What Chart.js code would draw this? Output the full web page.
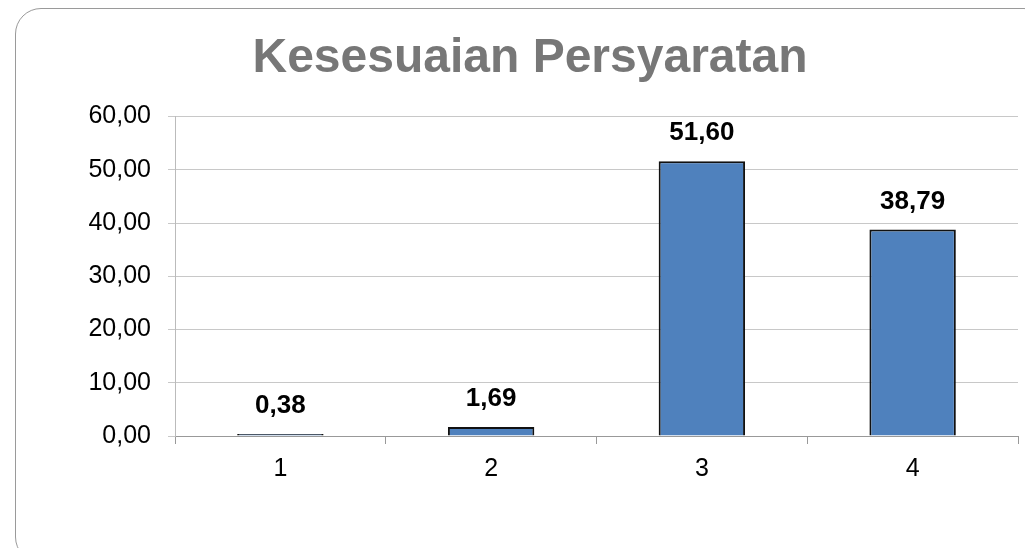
<!DOCTYPE html>
<html>
<head>
<meta charset="utf-8">
<script src="https://cdn.jsdelivr.net/npm/chart.js@4"></script>
<style>
    html, body { margin: 0; padding: 0; background: #fff; overflow: hidden; }
    #box {
        position: absolute; left: 15px; top: 8px;
        width: 1035px; height: 555px; box-sizing: border-box;
        border: 1px solid #9a9a9a; border-radius: 26px;
    }
    #kesesuaianChart { display: block; }
</style>
</head>
<body>
<div id="box"><canvas id="kesesuaianChart" width="1033" height="553"></canvas></div>
<script>
const chartTitle = 'Kesesuaian Persyaratan';
const categories = ['1', '2', '3', '4'];
const percentValues = [0.38, 1.69, 51.60, 38.79];
const yTicks = [0, 10, 20, 30, 40, 50, 60];

const fmt = v => v.toFixed(2).replace('.', ',');
const fontFamily = '"Liberation Sans", Arial, sans-serif';

// labels drawn above each bar, like the Excel data labels
const barLabels = {
    id: 'barLabels',
    afterDatasetsDraw(chart) {
        const ctx = chart.ctx;
        const meta = chart.getDatasetMeta(0);
        ctx.save();
        ctx.font = 'bold 26px ' + fontFamily;
        ctx.fillStyle = '#000';
        ctx.textAlign = 'center';
        ctx.textBaseline = 'middle';
        meta.data.forEach((bar, i) => {
            ctx.fillText(fmt(percentValues[i]), bar.x, bar.y - 28);
        });
        ctx.restore();
    }
};

const ctx = document.getElementById('kesesuaianChart').getContext('2d');
new Chart(ctx, {
    type: 'bar',
    data: {
        labels: categories,
        datasets: [{
            data: percentValues,
            backgroundColor: '#4F81BD',
            borderColor: '#111',
            borderWidth: 2,
            barPercentage: 0.41,
            categoryPercentage: 1
        }]
    },
    options: {
        responsive: false,
        animation: false,
        layout: {
            padding: { left: 26, right: 31, top: 0, bottom: 68 }
        },
        scales: {
            x: {
                grid: {
                    offset: true,
                    drawOnChartArea: false,
                    tickLength: 8,
                    color: '#999'
                },
                border: { color: '#999' },
                ticks: {
                    color: '#000',
                    padding: 10,
                    font: { family: fontFamily, size: 25 }
                }
            },
            y: {
                min: 0,
                max: 60,
                afterFit(scale) { scale.width = 133; },
                afterBuildTicks(scale) { scale.ticks = yTicks.map(v => ({ value: v })); },
                grid: { color: '#c8c8c8', tickLength: 7 },
                border: { color: '#bbb' },
                ticks: {
                    color: '#000',
                    padding: 17,
                    callback: v => fmt(v),
                    font: { family: fontFamily, size: 25 }
                }
            }
        },
        plugins: {
            legend: { display: false },
            tooltip: { enabled: false },
            title: {
                display: true,
                text: chartTitle,
                color: '#777',
                font: { family: fontFamily, size: 48, weight: 'bold', lineHeight: 1.2 },
                padding: { top: 21, bottom: 29 }
            }
        }
    },
    plugins: [barLabels]
});
</script>
</body>
</html>
